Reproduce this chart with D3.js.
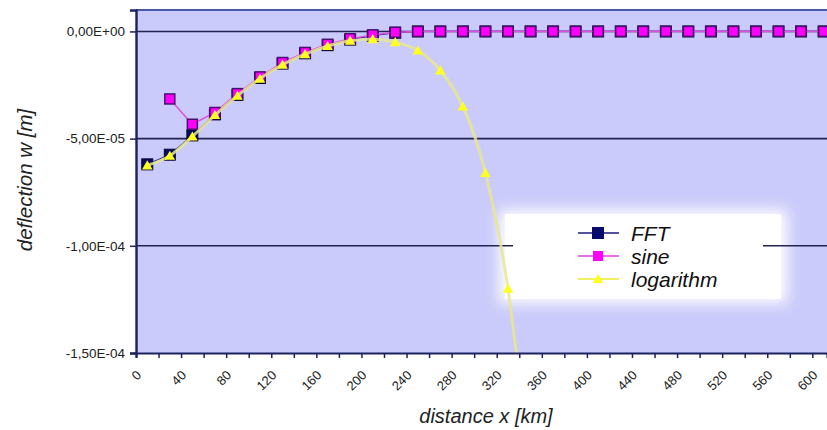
<!DOCTYPE html>
<html>
<head>
<meta charset="utf-8">
<script src="https://cdn.jsdelivr.net/npm/d3@7"></script>
<style>
  html, body { margin: 0; padding: 0; background: #ffffff; }
  svg { display: block; }
  text { font-family: "Liberation Sans", Arial, sans-serif; }
</style>
</head>
<body>
<svg id="chart" width="827" height="430"></svg>
<script>
// ---- data ----
const distances = [10, 30, 50, 70, 90, 110, 130, 150, 170, 190, 210, 230, 250, 270, 290, 310,
  330, 350, 370, 390, 410, 430, 450, 470, 490, 510, 530, 550, 570, 590, 610];
const fftValues = [-6.2e-5, -5.75e-5, -4.85e-5, -3.87e-5, -2.96e-5, -2.17e-5, -1.5e-5, -1.02e-5,
  -6.4e-6, -3.8e-6, -2.0e-6, -6e-7, 0, 0, 0, 0, 0, 0, 0, 0, 0, 0, 0, 0, 0, 0, 0, 0, 0, 0, 0];
const sineValues = [null, -3.15e-5, -4.33e-5, -3.78e-5, -2.9e-5, -2.12e-5, -1.45e-5, -9.8e-6,
  -6.0e-6, -3.4e-6, -1.6e-6, -4e-7, 0, 0, 0, 0, 0, 0, 0, 0, 0, 0, 0, 0, 0, 0, 0, 0, 0, 0, 0];
const logValues = [-6.25e-5, -5.8e-5, -4.9e-5, -3.9e-5, -3.0e-5, -2.2e-5, -1.55e-5, -1.06e-5,
  -6.8e-6, -4.3e-6, -3.6e-6, -5.0e-6, -8.9e-6, -1.82e-5, -3.5e-5, -6.6e-5, -1.2e-4, -2.1e-4,
  null, null, null, null, null, null, null, null, null, null, null, null, null];
const seriesNames = ["FFT", "sine", "logarithm"];
const xTickValues = [0, 20, 40, 60, 80, 100, 120, 140, 160, 180, 200, 220, 240, 260, 280, 300,
  320, 340, 360, 380, 400, 420, 440, 460, 480, 500, 520, 540, 560, 580, 600];
const xTickLabels = ["0", "", "40", "", "80", "", "120", "", "160", "", "200", "", "240", "", "280", "",
  "320", "", "360", "", "400", "", "440", "", "480", "", "520", "", "560", "", "600"];
const yTickValues = [0, -5e-5, -1e-4, -1.5e-4];
const yTickLabels = ["0,00E+00", "-5,00E-05", "-1,00E-04", "-1,50E-04"];
const xTitle = "distance x [km]";
const yTitle = "deflection w [m]";

// ---- layout ----
const plotL = 136, plotT = 10, plotR = 829, plotB = 353;
const svg = d3.select("#chart");

const x = d3.scaleLinear().domain([0, 613]).range([plotL, 827]);
const y = d3.scaleLinear().domain([-1.5e-4, 1e-5]).range([plotB, plotT]);

const defs = svg.append("defs");
defs.append("clipPath").attr("id", "plotClip")
  .append("rect").attr("x", plotL).attr("y", plotT).attr("width", plotR - plotL).attr("height", plotB - plotT);
const blur = defs.append("filter").attr("id", "glow").attr("x", "-20%").attr("y", "-40%").attr("width", "140%").attr("height", "180%");
blur.append("feGaussianBlur").attr("stdDeviation", 7);

// plot background
svg.append("rect").attr("x", plotL).attr("y", plotT).attr("width", plotR - plotL).attr("height", plotB - plotT)
  .attr("fill", "#cbcbfb");

// legend glow (under gridlines)
const legX0 = 513, legX1 = 763, legY0 = 212, legY1 = 301;
svg.append("rect").attr("x", legX0 - 14).attr("y", legY0 - 2).attr("width", legX1 - legX0 + 38).attr("height", legY1 - legY0 + 4)
  .attr("fill", "#ffffff").attr("filter", "url(#glow)");
svg.append("rect").attr("x", legX0 - 8).attr("y", legY0 + 2).attr("width", legX1 - legX0 + 26).attr("height", legY1 - legY0 - 4)
  .attr("fill", "#ffffff");

// gridlines
svg.append("g").selectAll("line").data(yTickValues.filter(v => v > -1.5e-4)).join("line")
  .attr("x1", plotL).attr("x2", plotR).attr("y1", d => y(d)).attr("y2", d => y(d))
  .attr("stroke", "#23234f").attr("stroke-width", 1.6);

// legend core box over gridlines
svg.append("rect").attr("x", legX0).attr("y", legY0 + 2).attr("width", legX1 - legX0).attr("height", legY1 - legY0 - 4)
  .attr("fill", "#ffffff");

// series
const plot = svg.append("g").attr("clip-path", "url(#plotClip)");
const mk = vals => distances.map((d, i) => ({ x: d, v: vals[i] })).filter(p => p.v !== null);
const fftPts = mk(fftValues), sinePts = mk(sineValues), logPts = mk(logValues);
const lineLin = d3.line().x(p => x(p.x)).y(p => y(p.v));
const lineSmooth = d3.line().x(p => x(p.x)).y(p => y(p.v)).curve(d3.curveMonotoneX);

// FFT
plot.append("path").attr("d", lineLin(fftPts)).attr("fill", "none").attr("stroke", "#1a1a80").attr("stroke-width", 1.2);
plot.append("g").selectAll("rect").data(fftPts).join("rect")
  .attr("x", p => x(p.x) - 5.5).attr("y", p => y(p.v) - 5.5).attr("width", 11).attr("height", 11)
  .attr("fill", "#0a0a5e").attr("stroke", "#050530").attr("stroke-width", 1);
// sine
plot.append("path").attr("d", lineLin(sinePts)).attr("fill", "none").attr("stroke", "#e050e0").attr("stroke-width", 1.5);
plot.append("g").selectAll("rect").data(sinePts).join("rect")
  .attr("x", p => x(p.x) - 5).attr("y", p => y(p.v) - 5).attr("width", 10).attr("height", 10)
  .attr("fill", "#ff00ff").attr("stroke", "#4a1070").attr("stroke-width", 1.5);
// logarithm
plot.append("path").attr("d", lineSmooth(logPts)).attr("fill", "none").attr("stroke", "#e8e890")
  .attr("stroke-opacity", 0.85).attr("stroke-width", 3);
const tri = d3.symbol().type(d3.symbolTriangle).size(48);
plot.append("g").selectAll("path").data(logPts).join("path")
  .attr("d", tri).attr("transform", p => `translate(${x(p.x)},${y(p.v) + 1})`)
  .attr("fill", "#ffff20");

// plot border
svg.append("line").attr("x1", plotL).attr("x2", plotR).attr("y1", plotT).attr("y2", plotT)
  .attr("stroke", "#4a5aa8").attr("stroke-width", 2);

// axes
const xAxis = d3.axisBottom(x).tickValues(xTickValues).tickSize(5).tickFormat("");
const gx = svg.append("g").attr("transform", `translate(0,${plotB})`).call(xAxis);
gx.select(".domain").attr("stroke", "#1c2260").attr("stroke-width", 2.2);
gx.selectAll(".tick line").attr("stroke", "#1c2260").attr("stroke-width", 1.5);
svg.append("g").selectAll("text").data(xTickValues).join("text")
  .attr("transform", d => `translate(${x(d) + 6},376) rotate(-45)`)
  .attr("text-anchor", "end").attr("font-size", 13).attr("fill", "#222")
  .text((d, i) => xTickLabels[i]);

const yAxis = d3.axisLeft(y).tickValues(yTickValues).tickSize(6).tickPadding(5)
  .tickFormat((d, i) => yTickLabels[i]);
const gy = svg.append("g").attr("transform", `translate(${plotL},0)`).call(yAxis);
gy.select(".domain").attr("stroke", "#1c2260").attr("stroke-width", 2.4);
gy.selectAll(".tick line").attr("stroke", "#1c2260").attr("stroke-width", 1.5);
gy.selectAll(".tick text").attr("font-size", 13.5).attr("fill", "#222")
  .attr("font-family", "'Liberation Sans', Arial, sans-serif");

// titles
svg.append("text").attr("x", 486).attr("y", 423).attr("text-anchor", "middle")
  .attr("font-size", 20).attr("font-style", "italic").attr("fill", "#222").text(xTitle);
svg.append("text").attr("transform", "translate(32,180) rotate(-90)").attr("text-anchor", "middle")
  .attr("font-size", 20.5).attr("font-style", "italic").attr("fill", "#222").text(yTitle);

// legend
const legRows = [233, 256, 279];
const legColors = ["#1a1a80", "#e040e0", "#f0f060"];
const lg = svg.append("g");
seriesNames.forEach((name, i) => {
  const ry = legRows[i];
  lg.append("line").attr("x1", 578).attr("x2", 619).attr("y1", ry).attr("y2", ry)
    .attr("stroke", legColors[i]).attr("stroke-width", i === 2 ? 1.8 : 1.5);
  if (i === 0) lg.append("rect").attr("x", 592).attr("y", ry - 6).attr("width", 12).attr("height", 12).attr("fill", "#0a0a6e");
  if (i === 1) lg.append("rect").attr("x", 593).attr("y", ry - 5).attr("width", 10).attr("height", 10).attr("fill", "#ff00ff");
  if (i === 2) lg.append("path").attr("d", tri).attr("transform", `translate(598,${ry + 1})`).attr("fill", "#ffff20");
  lg.append("text").attr("x", 631).attr("y", ry).attr("dy", "0.36em")
    .attr("font-size", 21).attr("font-style", "italic").attr("fill", "#111").text(name);
});
</script>
</body>
</html>
